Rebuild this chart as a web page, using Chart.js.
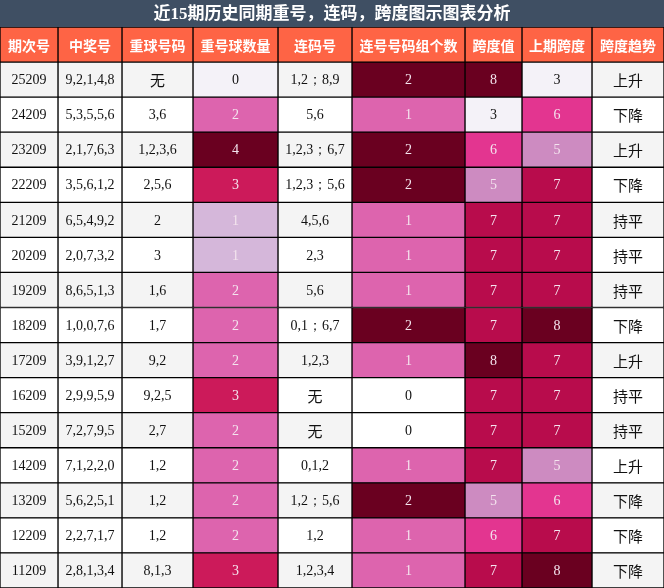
<!DOCTYPE html>
<html lang="zh">
<head>
<meta charset="UTF-8">
<title>近15期历史同期重号，连码，跨度图示图表分析</title>
<script src="https://cdn.jsdelivr.net/npm/chart.js"></script>
<style>
  html, body { margin: 0; padding: 0; background: #fff; }
  #wrap { width: 664px; height: 588px; }
</style>
</head>
<body>
<div id="wrap"><canvas id="tbl"></canvas></div>
<script>
const headers = ['期次号', '中奖号', '重球号码', '重号球数量', '连码号', '连号号码组个数', '跨度值', '上期跨度', '跨度趋势'];
const periods = ['25209','24209','23209','22209','21209','20209','19209','18209','17209','16209','15209','14209','13209','12209','11209'];
const winNums = ['9,2,1,4,8','5,3,5,5,6','2,1,7,6,3','3,5,6,1,2','6,5,4,9,2','2,0,7,3,2','8,6,5,1,3','1,0,0,7,6','3,9,1,2,7','2,9,9,5,9','7,2,7,9,5','7,1,2,2,0','5,6,2,5,1','2,2,7,1,7','2,8,1,3,4'];
const repeatNums = ['无','3,6','1,2,3,6','2,5,6','2','3','1,6','1,7','9,2','9,2,5','2,7','1,2','1,2','1,2','8,1,3'];
const repeatCount = [0,2,4,3,1,1,2,2,2,3,2,2,2,2,3];
const consecNums = ['1,2；8,9','5,6','1,2,3；6,7','1,2,3；5,6','4,5,6','2,3','5,6','0,1；6,7','1,2,3','无','无','0,1,2','1,2；5,6','1,2','1,2,3,4'];
const consecGroups = [2,1,2,2,1,1,1,2,1,0,0,1,2,1,1];
const spans = [8,3,6,5,7,7,7,7,8,7,7,7,5,6,7];
const prevSpans = [3,6,5,7,7,7,7,8,7,7,7,5,6,7,8];
const trends = ['上升','下降','上升','下降','持平','持平','持平','下降','上升','持平','持平','上升','下降','下降','下降'];

const colWidths = [58, 64, 71, 85, 74, 113, 57, 70, 72];
const countColor = {0:'#f4f2f8',1:'#d5b7da',2:'#dd64ae',3:'#cc1a5a',4:'#6a0020'};
const groupColor = {0:'#ffffff',1:'#dd64ae',2:'#6a0020'};
const spanColor = {3:'#f4f2f8',5:'#cd8bc1',6:'#e33590',7:'#b80c4c',8:'#6a0020'};

const cols = [periods, winNums, repeatNums, repeatCount, consecNums, consecGroups, spans, prevSpans, trends];
const colorMaps = [null, null, null, countColor, null, groupColor, spanColor, spanColor, null];

const rowLabels = ['head'].concat(periods);
const datasets = colWidths.map((w, c) => {
  const bg = rowLabels.map((r, i) => {
    if (i === 0) return '#fe6445';
    const base = i % 2 === 1 ? '#f4f4f4' : '#ffffff';
    const m = colorMaps[c];
    return m ? m[cols[c][i - 1]] : base;
  });
  return {
    data: rowLabels.map(() => w),
    backgroundColor: bg,
    borderColor: '#000',
    borderWidth: 1,
    borderSkipped: false,
    barPercentage: 1,
    categoryPercentage: 1
  };
});

function isLight(hex) {
  const n = parseInt(hex.slice(1), 16);
  const r = n >> 16, g = (n >> 8) & 255, b = n & 255;
  return (r * 299 + g * 587 + b * 114) / 1000 > 200;
}

const cellText = {
  id: 'cellText',
  beforeDraw(chart) {
    const ctx = chart.ctx;
    ctx.save();
    ctx.fillStyle = '#3f4f63';
    ctx.fillRect(0, 0, chart.width, chart.chartArea.top);
    ctx.fillStyle = '#ffffff';
    ctx.font = 'bold 17px "Liberation Serif", "Noto Sans CJK SC"';
    ctx.textAlign = 'center';
    ctx.textBaseline = 'middle';
    ctx.fillText('近15期历史同期重号，连码，跨度图示图表分析', chart.width / 2, chart.chartArea.top / 2 + 1);
    ctx.restore();
  },
  afterDatasetsDraw(chart) {
    const ctx = chart.ctx;
    ctx.save();
    ctx.textAlign = 'center';
    ctx.textBaseline = 'middle';
    chart.data.datasets.forEach((ds, c) => {
      chart.getDatasetMeta(c).data.forEach((bar, i) => {
        const x = bar.base + (bar.x - bar.base) / 2;
        let txt, color;
        if (i === 0) {
          txt = headers[c];
          color = '#ffffff';
          ctx.font = 'bold 14px "Noto Sans CJK SC"';
        } else {
          txt = String(cols[c][i - 1]);
          color = isLight(ds.backgroundColor[i]) ? '#111111' : '#f4e4ee';
          ctx.font = /[\u4e00-\u9fff]/.test(txt) ? '15px "Noto Sans CJK SC"' : '14px "Liberation Serif"';
        }
        ctx.fillStyle = color;
        ctx.fillText(txt, x, bar.y + 1);
      });
    });
    ctx.restore();
  }
};

new Chart(document.getElementById('tbl'), {
  type: 'bar',
  data: { labels: rowLabels, datasets: datasets },
  options: {
    indexAxis: 'y',
    responsive: true,
    maintainAspectRatio: false,
    animation: false,
    layout: { padding: { top: 27, left: 0, right: 0, bottom: 0 } },
    scales: {
      x: { stacked: true, min: 0, max: 664, display: false },
      y: { stacked: true, display: false }
    },
    plugins: { legend: { display: false }, tooltip: { enabled: false } }
  },
  plugins: [cellText]
});
</script>
</body>
</html>
